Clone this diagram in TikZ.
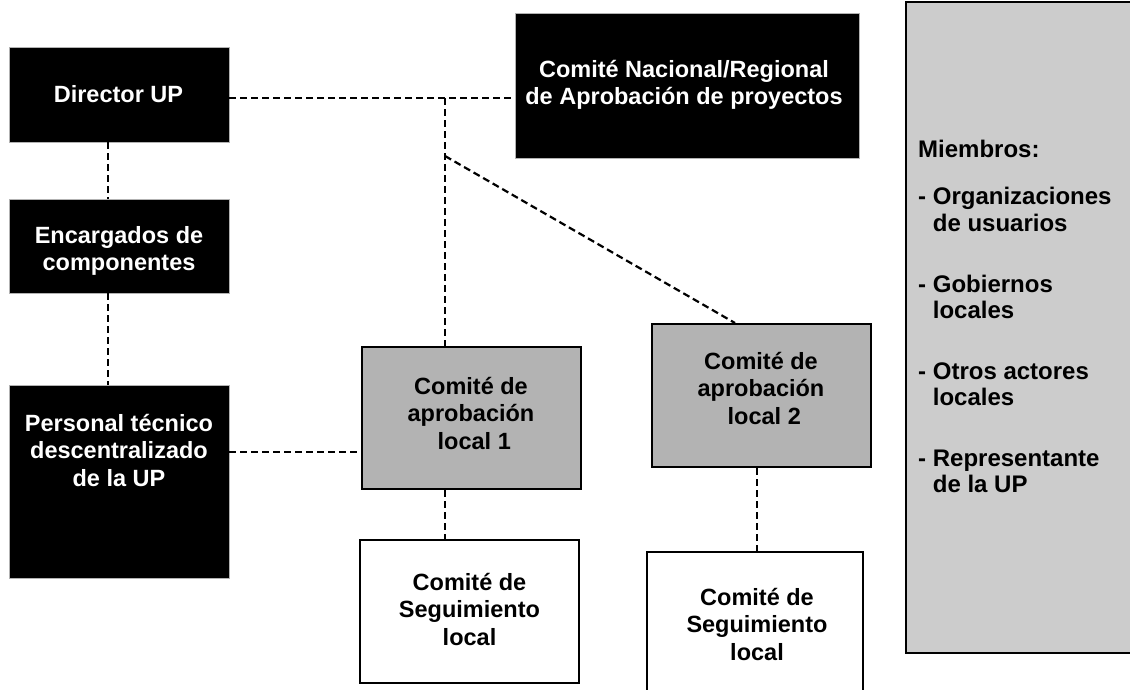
\documentclass[tikz,border=0pt]{standalone}
\usepackage{fontspec}
\setmainfont{Liberation Sans}
\definecolor{midgray}{HTML}{B3B3B3}
\definecolor{panelgray}{HTML}{CCCCCC}
\begin{document}
\begin{tikzpicture}[x=1pt,y=-1pt,
  txt/.style={font=\bfseries\fontsize{23.5}{27.5}\selectfont, align=center, inner sep=0pt},
  blackbox/.style={fill=black, draw=gray!60, line width=0.6pt, inner sep=0pt},
  graybox/.style={fill=midgray, draw=black, line width=2pt, inner sep=0pt},
  whitebox/.style={fill=white, draw=black, line width=2pt, inner sep=0pt},
  panel/.style={fill=panelgray, draw=black, line width=2.2pt, inner sep=0pt},
  conn/.style={draw=black, line width=2.2pt, dash pattern=on 7pt off 4pt},
  mline/.style={font=\bfseries\fontsize{24}{27.5}\selectfont, inner sep=0pt, anchor=west, text height=17pt, text depth=5pt}]
\useasboundingbox (0,0) rectangle (1130,689);

% boxes
\node[blackbox, minimum width=220pt, minimum height=95pt] (dir) at (119,94.5) {};
\node[blackbox, minimum width=220pt, minimum height=94pt] (enc) at (119,246) {};
\node[blackbox, minimum width=220pt, minimum height=193pt] (per) at (119,481.5) {};
\node[blackbox, minimum width=344pt, minimum height=145pt] (nac) at (687,85.5) {};
\node[graybox, minimum width=219pt, minimum height=142pt] (loc1) at (471.5,418) {};
\node[graybox, minimum width=219pt, minimum height=143pt] (loc2) at (761.5,395.5) {};
\node[whitebox, minimum width=219pt, minimum height=143pt] (seg1) at (469.5,611.5) {};
\node[whitebox, minimum width=216pt, minimum height=160pt] (seg2) at (755,632) {};
\node[panel, minimum width=240pt, minimum height=651pt] (pan) at (1026,327.5) {};

% texts
\node[txt, text=white] (dirt) at (118.5,94) {Director UP};
\node[txt, text=white] (enct) at (119,251) {Encargados de\\componentes};
\node[txt, text=white] (pert) at (119,450) {Personal técnico\\descentralizado\\de la UP};
\node[txt, text=white] (nact) at (684,85) {Comité Nacional/Regional\\de Aprobación de proyectos};
\node[txt] (loc1t) at (471,413) {Comité de\\aprobación\\\ local 1};
\node[txt] (loc2t) at (761,388) {Comité de\\aprobación\\\ local 2};
\node[txt] (seg1t) at (469.5,609) {Comité de\\Seguimiento\\local};
\node[txt] (seg2t) at (757,624) {Comité de\\Seguimiento\\local};

% panel text
\node[mline] (m0) at (918,151) {Miembros:};
\node[mline] (m1) at (918,198) {- Organizaciones};
\node[mline] (m2) at (918,225) {\phantom{-} de usuarios};
\node[mline] (m3) at (918,286) {- Gobiernos};
\node[mline] (m4) at (918,312) {\phantom{-} locales};
\node[mline] (m5) at (918,373) {- Otros actores};
\node[mline] (m6) at (918,399) {\phantom{-} locales};
\node[mline] (m7) at (918,460) {- Representante};
\node[mline] (m8) at (918,486) {\phantom{-} de la UP};

% connectors
\coordinate (jn) at (445,98);
\coordinate (jd) at (445,156);
\draw[conn] ([yshift=-3.5pt]dir.east) -- ([yshift=-12.5pt]nac.west);
\draw[conn] (jn) -- (jn |- loc1.north);
\draw[conn] (jd) -- ([xshift=-26.5pt]loc2.north);
\draw[conn] ([xshift=-11pt]dir.south) -- ([xshift=-11pt]enc.north);
\draw[conn] ([xshift=-11pt]enc.south) -- ([xshift=-11pt]per.north);
\draw[conn] ([yshift=29.5pt]per.east) -- (loc1.west |- 0,452);
\draw[conn] (jn |- loc1.south) -- (jn |- seg1.north);
\draw[conn] ([xshift=-4.5pt]loc2.south) -- ([xshift=-4.5pt]loc2.south |- seg2.north);
\end{tikzpicture}
\end{document}
